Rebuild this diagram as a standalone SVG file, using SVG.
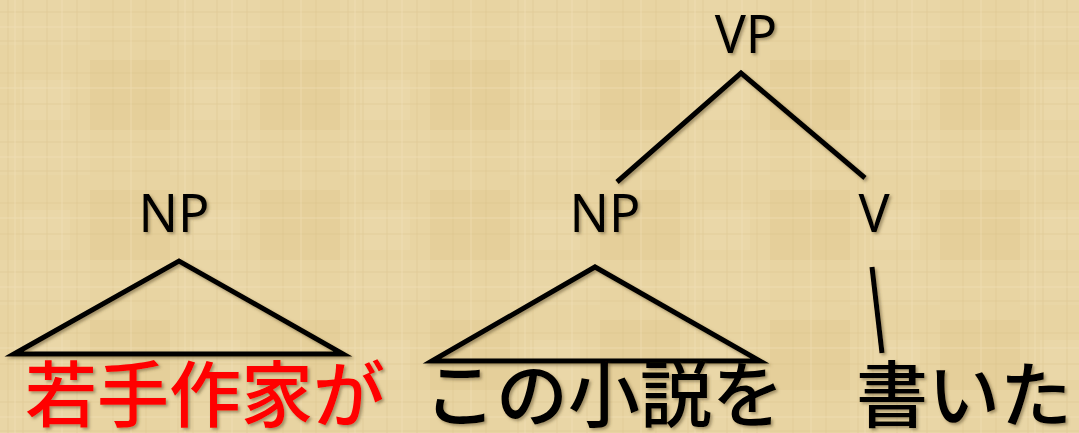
<svg xmlns="http://www.w3.org/2000/svg" width="1079" height="433" viewBox="0 0 1079 433">
<defs>
<style>
.lbl{font-family:"Noto Sans","Open Sans",sans-serif;font-size:52px;fill:#000;text-anchor:middle}
.jp{font-family:"Noto Sans CJK JP","Noto Sans",sans-serif;font-size:72px;font-weight:500;fill:#000}
.edge{stroke:#000;stroke-width:5;fill:none;stroke-linejoin:miter}
</style>
<filter id="sh" x="-10%" y="-10%" width="130%" height="130%">
<feDropShadow dx="2" dy="2" stdDeviation="1.5" flood-color="#5a4a2a" flood-opacity="0.5"/>
</filter>
<pattern id="tex" width="170" height="130" patternUnits="userSpaceOnUse">
<rect width="170" height="130" fill="#e8d4a2"/>
<rect x="0" y="0" width="90" height="45" fill="#e9d6a6"/>
<rect x="90" y="60" width="80" height="70" fill="#e5cf9a"/>
<rect x="20" y="80" width="50" height="40" fill="#ead7a8"/>
<g stroke="#d6bd84" stroke-width="1" opacity="0.4">
<line x1="8" y1="0" x2="8" y2="130"/><line x1="23" y1="0" x2="23" y2="130"/><line x1="47" y1="0" x2="47" y2="130"/>
<line x1="77" y1="0" x2="77" y2="130"/><line x1="113" y1="0" x2="113" y2="130"/><line x1="146" y1="0" x2="146" y2="130"/>
<line x1="0" y1="12" x2="170" y2="12"/><line x1="0" y1="41" x2="170" y2="41"/><line x1="0" y1="73" x2="170" y2="73"/><line x1="0" y1="104" x2="170" y2="104"/>
</g>
<g stroke="#f3e4bf" stroke-width="1" opacity="0.5">
<line x1="15" y1="0" x2="15" y2="130"/><line x1="62" y1="0" x2="62" y2="130"/><line x1="131" y1="0" x2="131" y2="130"/>
<line x1="0" y1="27" x2="170" y2="27"/><line x1="0" y1="88" x2="170" y2="88"/>
</g>
</pattern>
</defs>
<rect width="1079" height="433" fill="url(#tex)"/>
<g id="connectors" class="edge" filter="url(#sh)">
<polyline points="617,182 741,73 865,178"/>
<polygon points="14,354 179,261 343,354"/>
<polygon points="432,361 595,267 760,361"/>
<line x1="872" y1="267" x2="882" y2="353"/>
</g>
<g id="vp" filter="url(#sh)"><text class="lbl" x="746" y="53">VP</text></g>
<g id="np1" filter="url(#sh)"><text class="lbl" x="174" y="232">NP</text></g>
<g id="np2" filter="url(#sh)"><text class="lbl" x="605" y="232">NP</text></g>
<g id="v" filter="url(#sh)"><text class="lbl" x="874" y="232">V</text></g>
<g id="w1" filter="url(#sh)"><text class="jp" x="25" y="421" style="fill:#ff0000">若手作家が</text></g>
<g id="w2" filter="url(#sh)"><text class="jp" x="424" y="421">この小説を</text></g>
<g id="w3" filter="url(#sh)"><text class="jp" x="856" y="421">書いた</text></g>
</svg>
